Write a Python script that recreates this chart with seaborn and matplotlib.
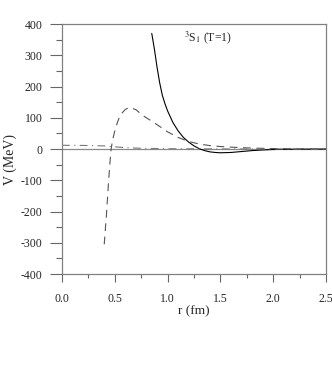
import numpy as np
import pandas as pd
import matplotlib
matplotlib.use("Agg")
import matplotlib.pyplot as plt
import seaborn as sns
from matplotlib.ticker import MultipleLocator

# values
r_solid = [0.85, 0.875, 0.9, 0.925, 0.95, 0.975, 1.0, 1.05, 1.1, 1.15, 1.2, 1.25,
           1.3, 1.35, 1.4, 1.45, 1.5, 1.6, 1.7, 1.8, 1.9, 2.0, 2.2, 2.5]
v_solid = [370, 320, 262, 212, 172, 145, 122, 85, 58, 37, 22, 10,
           1, -5, -9, -11, -12, -11, -8, -5, -3, -1.5, -0.5, 0]

r_dash = [0.40, 0.42, 0.44, 0.455, 0.465, 0.48, 0.50, 0.52, 0.55, 0.60, 0.64, 0.70,
          0.77, 0.8, 0.9, 1.0, 1.1, 1.2, 1.3, 1.4, 1.5, 1.6, 1.8, 2.0, 2.2, 2.5]
v_dash = [-305, -215, -110, -40, 0, 30, 58, 80, 108, 127, 133, 126,
          106, 100, 78, 55, 37, 24, 16, 11, 8, 6, 3, 1.5, 0.8, 0.3]

r_dashdot = [0.0, 0.2, 0.4, 0.5, 0.6, 0.7, 0.8, 1.0, 1.5, 2.0, 2.5]
v_dashdot = [12, 11.5, 10, 7, 4.5, 3, 2, 1, 0.3, 0.1, 0]

x_ticks = [0.0, 0.5, 1.0, 1.5, 2.0, 2.5]
y_ticks = [-400, -300, -200, -100, 0, 100, 200, 300, 400]

sns.set_style("white")
plt.rcParams['font.family'] = ['Liberation Serif', 'DejaVu Serif']
plt.rcParams['mathtext.fontset'] = 'stix'
plt.rcParams['axes.unicode_minus'] = False

fig = plt.figure(figsize=(3.32, 3.88), dpi=100)
ax = fig.add_axes([0.1867, 0.2938, 0.7953, 0.6442])

ax.axhline(0, color='#8a8a8a', lw=0.9, zorder=1)

sns.lineplot(x=r_solid, y=v_solid, ax=ax, color='black', lw=0.8, sort=False)
sns.lineplot(x=r_dash, y=v_dash, ax=ax, color='#555555', lw=0.8, sort=False,
             linestyle=(0, (7, 5)))
sns.lineplot(x=r_dashdot, y=v_dashdot, ax=ax, color='#777777', lw=0.8, sort=False,
             linestyle=(0, (7, 4, 1, 4)))

ax.set_xlim(0, 2.5)
ax.set_ylim(-400, 400)
ax.set_xticks(x_ticks)
ax.set_xticklabels([f"{t:.1f}" for t in x_ticks])
ax.set_yticks(y_ticks)
ax.xaxis.set_minor_locator(MultipleLocator(0.25))
ax.yaxis.set_minor_locator(MultipleLocator(50))

ax.tick_params(left=True, bottom=True, top=False, right=False, which='both')
ax.tick_params(axis='both', which='major', direction='out', color='#666666',
               labelsize=8.5, width=0.8)
ax.tick_params(axis='y', which='major', length=9, pad=5)
ax.tick_params(axis='x', which='major', length=6, pad=8)
ax.tick_params(axis='y', which='minor', direction='out', length=4, width=0.8, color='#666666')
ax.tick_params(axis='x', which='minor', direction='out', length=3, width=0.8, color='#666666')

for s in ax.spines.values():
    s.set_color('#808080')
    s.set_linewidth(0.9)

ax.set_xlabel("r (fm)", fontsize=9.5, labelpad=0)
ax.set_ylabel("V (MeV)", fontsize=10)
ax.yaxis.set_label_coords(-0.17, 0.46)

ax.text(1.38, 355, r"$^{3}$S$_{1}$ (T=1)", fontsize=8.5, ha='center', va='center')

fig.savefig("out.png", dpi=100)
